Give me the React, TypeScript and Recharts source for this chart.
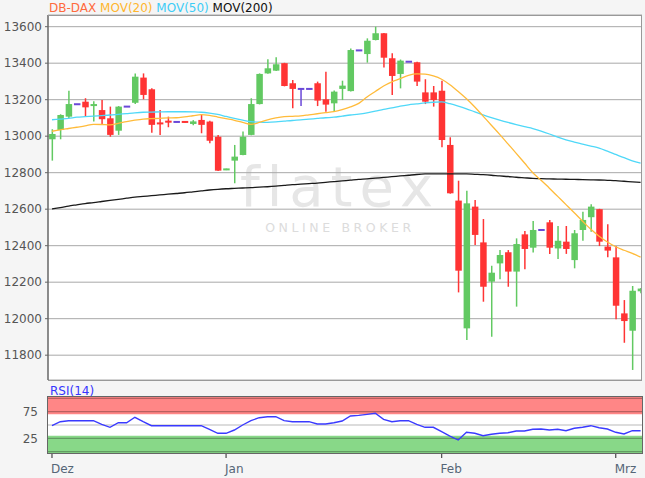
import React from 'react';
import { ComposedChart, Bar, Line, XAxis, YAxis, CartesianGrid, ReferenceArea, ReferenceLine } from 'recharts';

const opens = [12983, 13034, 13107, 13175, 13189, 13165, 13143, 13098, 13030, 13162, 13183, 13321, 13257, 13072, 13085, 13078, 13080, 13067, 13089, 13080, 12997, 12816, 12866, 12897, 13007, 13176, 13344, 13359, 13400, 13290, 13259, 13259, 13290, 13202, 13180, 13259, 13247, 13470, 13450, 13527, 13564, 13427, 13341, 13408, 13405, 13240, 13240, 13249, 12952, 12647, 11947, 12614, 12418, 12203, 12303, 12364, 12258, 12462, 12389, 12486, 12528, 12385, 12422, 12321, 12486, 12556, 12600, 12395, 12336, 12029, 11934, 12150];
const highs = [13038, 13120, 13249, 13177, 13208, 13191, 13198, 13162, 13165, 13164, 13344, 13344, 13262, 13143, 13107, 13080, 13082, 13088, 13120, 13085, 13007, 12822, 12952, 13025, 13208, 13344, 13421, 13432, 13402, 13308, 13262, 13261, 13299, 13353, 13250, 13304, 13481, 13472, 13536, 13600, 13566, 13454, 13420, 13410, 13408, 13312, 13275, 13304, 12994, 12756, 12701, 12650, 12546, 12290, 12376, 12376, 12440, 12480, 12535, 12488, 12541, 12508, 12508, 12486, 12586, 12627, 12602, 12518, 12398, 12102, 12179, 12168];
const lows = [12866, 12983, 13100, 13173, 13107, 13080, 13067, 12997, 13007, 13160, 13176, 13202, 13019, 13007, 13049, 13076, 13074, 13060, 13016, 12961, 12809, 12814, 12742, 12895, 13005, 13174, 13342, 13357, 13273, 13153, 13165, 13257, 13165, 13134, 13134, 13198, 13245, 13468, 13403, 13525, 13377, 13226, 13262, 13406, 13275, 13176, 13162, 12939, 12685, 12144, 11883, 12404, 12093, 11901, 12216, 12175, 12066, 12271, 12362, 12484, 12355, 12327, 12355, 12276, 12427, 12477, 12398, 12336, 11997, 11868, 11719, 12140];
const closes = [13012, 13116, 13176, 13175, 13158, 13176, 13093, 13007, 13162, 13162, 13326, 13226, 13062, 13068, 13074, 13078, 13076, 13081, 13062, 12975, 12811, 12820, 12888, 12997, 13176, 13341, 13372, 13394, 13275, 13259, 13259, 13259, 13195, 13173, 13244, 13277, 13472, 13470, 13523, 13564, 13430, 13330, 13414, 13408, 13299, 13189, 13198, 12979, 12687, 12263, 12632, 12459, 12175, 12252, 12349, 12258, 12409, 12382, 12486, 12486, 12389, 12427, 12382, 12468, 12541, 12614, 12422, 12373, 12071, 11987, 12153, 12165];
const ma20 = [13027, 13035, 13042, 13049, 13056, 13065, 13064, 13062, 13070, 13080, 13088, 13094, 13096, 13098, 13100, 13101, 13106, 13112, 13118, 13114, 13105, 13096, 13087, 13075, 13065, 13075, 13090, 13100, 13107, 13109, 13111, 13117, 13123, 13129, 13135, 13146, 13160, 13180, 13215, 13245, 13275, 13298, 13315, 13333, 13341, 13340, 13330, 13312, 13282, 13245, 13205, 13160, 13110, 13060, 13010, 12958, 12906, 12853, 12800, 12758, 12715, 12670, 12625, 12580, 12534, 12490, 12452, 12420, 12394, 12375, 12358, 12337];
const ma50 = [13090, 13094, 13098, 13104, 13107, 13110, 13113, 13116, 13120, 13124, 13128, 13131, 13132, 13133, 13134, 13134, 13134, 13133, 13131, 13126, 13119, 13108, 13097, 13088, 13080, 13077, 13076, 13078, 13082, 13086, 13089, 13093, 13097, 13101, 13104, 13110, 13116, 13121, 13128, 13137, 13147, 13155, 13165, 13172, 13177, 13182, 13186, 13188, 13178, 13165, 13150, 13133, 13117, 13102, 13088, 13075, 13063, 13052, 13042, 13028, 13012, 12995, 12980, 12968, 12957, 12946, 12935, 12918, 12900, 12882, 12865, 12852];
const ma200 = [12602, 12609, 12617, 12624, 12631, 12636, 12642, 12648, 12654, 12660, 12666, 12670, 12674, 12678, 12682, 12686, 12690, 12695, 12700, 12705, 12709, 12712, 12714, 12716, 12718, 12721, 12723, 12726, 12730, 12734, 12737, 12740, 12743, 12747, 12751, 12755, 12759, 12763, 12766, 12770, 12774, 12778, 12782, 12786, 12790, 12793, 12794, 12794, 12794, 12793, 12793, 12791, 12789, 12786, 12782, 12779, 12775, 12772, 12769, 12767, 12766, 12765, 12764, 12763, 12762, 12761, 12760, 12758, 12756, 12753, 12750, 12747];
const rsi = [48.7, 56.2, 58.1, 58.1, 58.1, 58.1, 51.3, 45.7, 54.3, 54.3, 64.5, 56.2, 48.7, 48.7, 48.7, 48.7, 48.7, 48.7, 48.7, 41.9, 34.4, 34.4, 40.6, 50, 58.1, 63.7, 65.6, 65.6, 58.1, 56.2, 56.2, 56.2, 51.9, 51.9, 54.3, 57.5, 66.9, 68, 70, 72, 60.7, 56.2, 58.1, 58.1, 51.3, 45.7, 45.7, 37.4, 29.3, 21.8, 36.3, 34.4, 29.9, 32.5, 34.4, 35.5, 38.7, 38.7, 41.9, 42.5, 40.6, 41.9, 39.3, 43.8, 45.7, 48.7, 44.9, 42.5, 36.3, 33.1, 39.3, 39.3];

const priceTicks = [11800, 12000, 12200, 12400, 12600, 12800, 13000, 13200, 13400, 13600];
const monthTickIdx = [0, 21, 47, 68];
const monthLabels = ['Dez', 'Jan', 'Feb', 'Mrz'];
const rsiTicks = [25, 75];

const GREEN = '#62c962';
const RED = '#ff3434';
const PURPLE = '#6a48d8';
const FONT = '"DejaVu Sans", Verdana, sans-serif';

const data = opens.map((o, i) => ({
  i,
  open: o,
  high: highs[i],
  low: lows[i],
  close: closes[i],
  ma20: ma20[i],
  ma50: ma50[i],
  ma200: ma200[i],
  rsi: rsi[i],
}));

const Candle = (props: any) => {
  const { x, y, width, height, payload } = props;
  if (!payload || x == null) return null;
  const { open, close, high, low } = payload;
  const yTop = Math.min(y, y + height);
  const h = Math.abs(height);
  const range = high - low;
  const ratio = range > 0 ? h / range : 0;
  const cx = x + width / 2;
  const color = close > open ? GREEN : close < open ? RED : PURPLE;
  let top = yTop + (high - Math.max(open, close)) * ratio;
  let bot = yTop + (high - Math.min(open, close)) * ratio;
  if (bot - top < 2) {
    const mid = (top + bot) / 2;
    top = mid - 1;
    bot = mid + 1;
  }
  const bw = 6.5;
  return (
    <g>
      <line x1={cx} x2={cx} y1={yTop} y2={yTop + h} stroke={color} strokeWidth={1.5} />
      <rect x={cx - bw / 2} y={top} width={bw} height={bot - top} fill={color} />
    </g>
  );
};

const MonthTick = (props: any) => {
  const { x, y, payload } = props;
  const k = monthTickIdx.indexOf(payload.value);
  return (
    <text x={x - 1} y={y} dy="0.71em" textAnchor="start" fill="#556677" fontSize={12} fontFamily={FONT}>
      {k >= 0 ? monthLabels[k] : ''}
    </text>
  );
};

const XDOM: [number, number] = [-0.48, 71.17];

export default function App() {
  return (
    <div style={{ position: 'absolute', left: 0, top: 0, width: 645, height: 478, background: '#f5f5f5', overflow: 'hidden', fontFamily: FONT }}>
      {/* plot backgrounds */}
      <div style={{ position: 'absolute', left: 48, top: 15, width: 594, height: 365, background: '#ffffff' }} />
      <div style={{ position: 'absolute', left: 48, top: 397, width: 594, height: 56, background: '#ffffff' }} />
      {/* watermark */}
      <svg width={645} height={478} style={{ position: 'absolute', left: 0, top: 0 }}>
        <text x={340} y={206} textAnchor="middle" fontFamily={FONT} fontSize={56} letterSpacing={7} fill="#e6e6e6">flatex</text>
        <text x={340} y={232} textAnchor="middle" fontFamily={FONT} fontSize={12.5} letterSpacing={3.6} fill="#dcdcdc">ONLINE BROKER</text>
      </svg>
      {/* title */}
      <div style={{ position: 'absolute', left: 49, top: 1, fontSize: 12, lineHeight: '14px', whiteSpace: 'pre' }}>
        <span style={{ color: '#ff6a3d' }}>DB-DAX </span>
        <span style={{ color: '#ffb62e' }}>MOV(20) </span>
        <span style={{ color: '#3dccf5' }}>MOV(50) </span>
        <span style={{ color: '#111' }}>MOV(200)</span>
      </div>
      <div style={{ position: 'absolute', left: 50, top: 384, fontSize: 12, lineHeight: '14px', color: '#3535ff' }}>RSI(14)</div>

      <div style={{ position: 'absolute', left: 0, top: 0 }}>
        <ComposedChart width={645} height={381} data={data} margin={{ top: 15, right: 3, bottom: 1, left: 0 }}>
          <CartesianGrid vertical={false} stroke="#a8a8a8" strokeWidth={1} />
          <XAxis dataKey="i" type="number" domain={XDOM} hide allowDataOverflow />
          <YAxis
            type="number"
            domain={[11664, 13664]}
            ticks={priceTicks}
            width={48}
            tickSize={3}
            tickMargin={3}
            allowDataOverflow
            stroke="#666"
            axisLine={{ stroke: '#666', strokeWidth: 1.5 }}
            tick={{ fill: '#555', fontSize: 12, fontFamily: FONT }}
            interval={0}
          />
          <Bar dataKey={(d: any) => [d.low, d.high]} barSize={7} isAnimationActive={false} shape={(p: any) => <Candle {...p} />} />
          <Line type="monotone" dataKey="ma200" stroke="#1a1a1a" strokeWidth={1.3} dot={false} isAnimationActive={false} />
          <Line type="monotone" dataKey="ma50" stroke="#4fd8f8" strokeWidth={1.3} dot={false} isAnimationActive={false} />
          <Line type="monotone" dataKey="ma20" stroke="#ffbb3a" strokeWidth={1.3} dot={false} isAnimationActive={false} />
        </ComposedChart>
      </div>

      <div style={{ position: 'absolute', left: 0, top: 390 }}>
        <ComposedChart width={645} height={88} data={data} margin={{ top: 7, right: 3, bottom: 0, left: 0 }}>
          <XAxis
            dataKey="i"
            type="number"
            domain={XDOM}
            allowDataOverflow
            ticks={monthTickIdx}
            interval={0}
            height={25}
            tickSize={5}
            tickMargin={6}
            axisLine={false}
            tickLine={{ stroke: '#555', strokeWidth: 1.3 }}
            tick={(p: any) => <MonthTick {...p} />}
          />
          <YAxis
            type="number"
            domain={[-2.6, 102.6]}
            ticks={rsiTicks}
            width={48}
            tickSize={0}
            tickMargin={10}
            tickLine={false}
            axisLine={false}
            allowDataOverflow
            tick={{ fill: '#555', fontSize: 12, fontFamily: FONT }}
            interval={0}
          />
          <ReferenceArea y1={70} y2={102.6} fill="#ff8686" fillOpacity={1} stroke="none" ifOverflow="hidden" />
          <ReferenceArea y1={-2.6} y2={30} fill="#88d888" fillOpacity={1} stroke="none" ifOverflow="hidden" />
          {[0, 25, 50, 75, 100].map((v) => (
            <ReferenceLine key={v} y={v} stroke="#000" strokeOpacity={0.28} strokeWidth={1.2} />
          ))}
          <Line type="linear" dataKey="rsi" stroke="#3a3aff" strokeWidth={1.4} dot={false} isAnimationActive={false} />
        </ComposedChart>
      </div>

      {/* borders on top */}
      <div style={{ position: 'absolute', left: 48, top: 15, width: 594, height: 366, boxSizing: 'border-box', borderTop: '1px solid #999', borderRight: '1px solid #999', borderBottom: '1px solid #999', pointerEvents: 'none' }} />
      <div style={{ position: 'absolute', left: 47, top: 396, width: 596, height: 58, boxSizing: 'border-box', border: '1.5px solid #666', pointerEvents: 'none' }} />
    </div>
  );
}
